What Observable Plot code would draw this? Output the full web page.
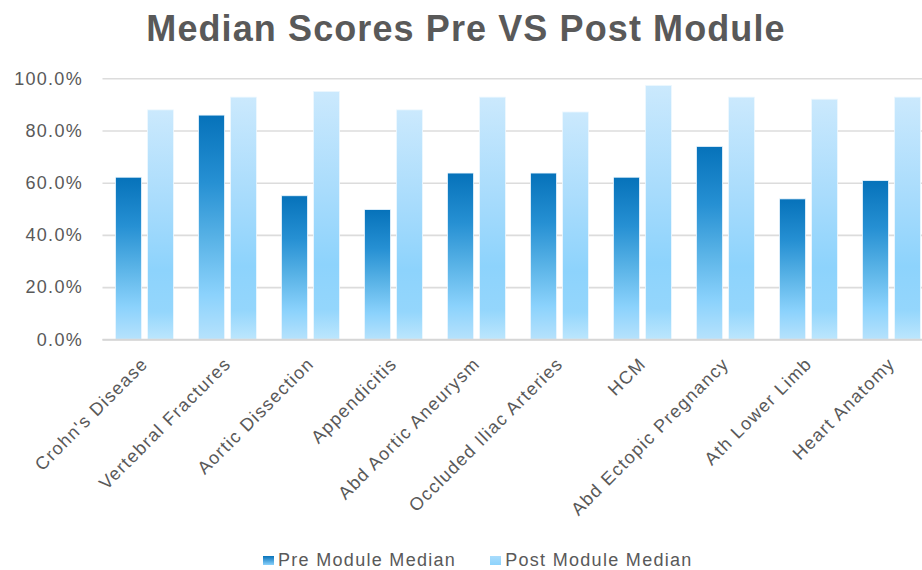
<!DOCTYPE html>
<html>
<head>
<meta charset="utf-8">
<script src="https://cdn.jsdelivr.net/npm/d3@7"></script>
<script src="https://cdn.jsdelivr.net/npm/@observablehq/plot@0.6"></script>
<style>
  html, body { margin: 0; padding: 0; background: #fff; overflow: hidden; }
  #wrap { position: relative; width: 922px; height: 570px; overflow: hidden; font-family: "Liberation Sans", Arial, sans-serif; }
  #title { position: absolute; left: 5px; top: 11px; width: 922px; text-align: center; font-weight: bold; font-size: 36px; line-height: 36px; letter-spacing: 1.1px; color: #595959; }
  #chart { position: absolute; left: 0; top: 60px; }
  #legend { position: absolute; left: 263px; top: 550px; height: 20px; display: flex; align-items: center; font-size: 18px; line-height: 18px; letter-spacing: 1.3px; color: #595959; }
  .sw { width: 11px; height: 9px; margin-right: 4px; }
  .item { display: flex; align-items: center; margin-right: 34px; }
</style>
</head>
<body>
<div id="wrap">
  <div id="title">Median Scores Pre VS Post Module</div>
  <div id="chart"></div>
  <div id="legend"></div>
</div>
<script>
const categories = ["Crohn's Disease", "Vertebral Fractures", "Aortic Dissection", "Appendicitis", "Abd Aortic Aneurysm", "Occluded Iliac Arteries", "HCM", "Abd Ectopic Pregnancy", "Ath Lower Limb", "Heart Anatomy"];
const preMedian = [62.1, 85.9, 55.0, 49.7, 63.7, 63.7, 62.1, 73.9, 53.8, 60.8];
const postMedian = [87.9, 92.8, 95.0, 87.9, 92.8, 87.1, 97.3, 92.8, 92.0, 92.8];
const seriesNames = ["Pre Module Median", "Post Module Median"];
const yTicks = [0, 20, 40, 60, 80, 100];

const preData = categories.map((c, i) => ({category: c, value: preMedian[i]}));
const postData = categories.map((c, i) => ({category: c, value: postMedian[i]}));

const preStops = [[0, "#0672ba"], [0.3, "#2690d3"], [0.55, "#58b2e6"], [0.8, "#8bd2fc"], [1, "#b6e2fc"]];
const postStops = [[0, "#cbe9fd"], [0.4, "#a9dcfc"], [0.7, "#8dd3fc"], [0.88, "#94d6fc"], [1, "#bce6fd"]];

function defs() {
  const d = d3.create("svg:defs");
  for (const [id, stops] of [["gradPre", preStops], ["gradPost", postStops]]) {
    const g = d.append("linearGradient").attr("id", id).attr("x1", 0).attr("y1", 0).attr("x2", 0).attr("y2", 1);
    for (const [o, c] of stops) g.append("stop").attr("offset", o).attr("stop-color", c);
  }
  return d.node();
}

const chart = Plot.plot({
  width: 922,
  height: 470,
  marginLeft: 102.5,
  marginRight: -10.5,
  marginTop: 18.3,
  marginBottom: 190.7,
  style: {fontFamily: "'Liberation Sans', Arial, sans-serif", fontSize: "18px", color: "#595959", letterSpacing: "1.3px", background: "transparent"},
  x: {domain: categories, padding: 0},
  y: {domain: [0, 100]},
  marks: [
    defs,
    Plot.gridY(yTicks, {stroke: "#dcdcdc", strokeOpacity: 1, strokeWidth: 1.6}),
    Plot.barY(preData, {x: "category", y: "value", fill: "url(#gradPre)", insetLeft: 12.5, insetRight: 44.5, stroke: "#eaf6fe", strokeWidth: 0.8}),
    Plot.barY(postData, {x: "category", y: "value", fill: "url(#gradPost)", insetLeft: 44.5, insetRight: 12.5, stroke: "#eef8fe", strokeWidth: 0.8}),
    Plot.ruleY([0], {stroke: "#d6d6d6", strokeWidth: 2}),
    Plot.axisY({ticks: yTicks, tickSize: 0, tickPadding: 20, tickFormat: d => d.toFixed(1) + "%", label: null}),
    Plot.axisX({tickSize: 0, tickPadding: 21, tickRotate: -45, label: null})
  ]
});
document.getElementById("chart").appendChild(chart);

const legend = document.getElementById("legend");
const swatchGrads = ["linear-gradient(#0672ba, #8bd2fc)", "linear-gradient(#a9dcfc, #8dd3fc)"];
seriesNames.forEach((name, i) => {
  const item = document.createElement("div");
  item.className = "item";
  const sw = document.createElement("div");
  sw.className = "sw";
  sw.style.background = swatchGrads[i];
  const t = document.createElement("span");
  t.textContent = name;
  item.appendChild(sw);
  item.appendChild(t);
  legend.appendChild(item);
});
</script>
</body>
</html>
